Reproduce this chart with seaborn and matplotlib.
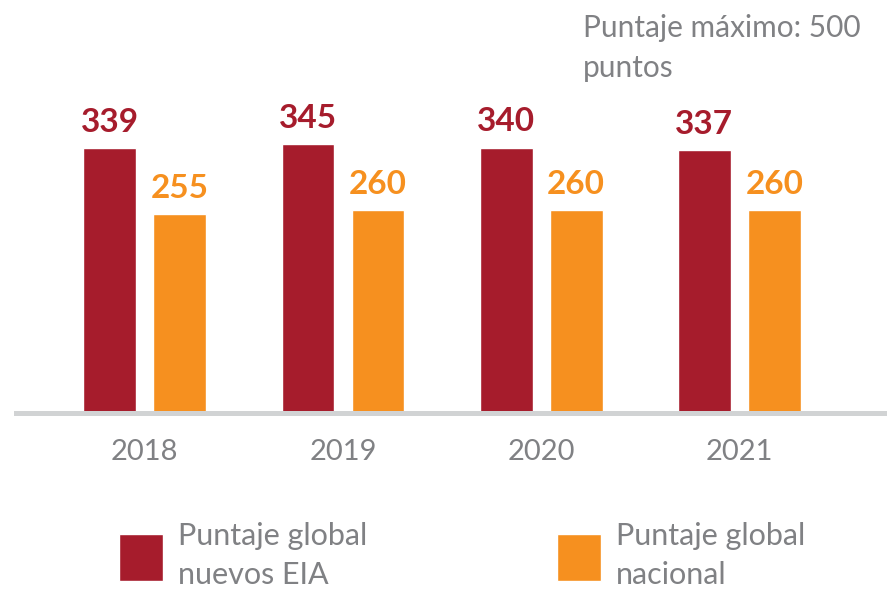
import numpy as np
import pandas as pd
import matplotlib
matplotlib.use("Agg")
import matplotlib.pyplot as plt
import seaborn as sns

years = ["2018", "2019", "2020", "2021"]
eia_scores = [339, 345, 340, 337]
national_scores = [255, 260, 260, 260]
series_names = ["Puntaje global\nnuevos EIA", "Puntaje global\nnacional"]
note = "Puntaje máximo: 500\npuntos"

red = "#a61c2c"
orange = "#f6901f"
gray_text = "#808184"
axis_gray = "#d1d3d4"

df = pd.DataFrame({
    "year": years * 2,
    "serie": [series_names[0]] * 4 + [series_names[1]] * 4,
    "score": eia_scores + national_scores,
})

sns.set_style("white")
plt.rcParams["font.family"] = ["Lato", "DejaVu Sans"]

fig = plt.figure(figsize=(8.88, 5.92), dpi=100)
ax = fig.add_axes([16 / 888, 1 - 413 / 592, 868 / 888, 413 / 592])

sns.barplot(
    data=df, x="year", y="score", hue="serie",
    palette=[red, orange], width=0.706, gap=0.244,
    saturation=1, ax=ax,
)

# value labels on top of each bar
for cont, col in zip(ax.containers, [red, orange]):
    ax.bar_label(cont, fmt="%d", padding=8, fontsize=24,
                 fontweight="bold", color=col)

ax.set_xlim(-0.65, 3.73)
ax.set_ylim(0, 529)
ax.set_xlabel("")
ax.set_ylabel("")
ax.set_yticks([])
for s in ["left", "top", "right"]:
    ax.spines[s].set_visible(False)
ax.spines["bottom"].set_color(axis_gray)
ax.spines["bottom"].set_linewidth(3.6)
ax.tick_params(axis="x", length=0, pad=19, labelsize=21, labelcolor=gray_text)

leg = ax.legend(
    loc="upper left", bbox_to_anchor=(119 / 888, 1 - 522 / 592),
    bbox_transform=fig.transFigure, ncol=2, frameon=False,
    fontsize=22, handlelength=1.44, handleheight=2.0,
    handletextpad=0.5, columnspacing=6.2, borderpad=0, borderaxespad=0,
)
for t in leg.get_texts():
    t.set_color(gray_text)
    t.set_linespacing(1.5)

fig.text(583 / 888, 1 - 14 / 592, note, ha="left", va="top",
         fontsize=21.5, color=gray_text, linespacing=1.5)

fig.savefig("out.png", dpi=100)
